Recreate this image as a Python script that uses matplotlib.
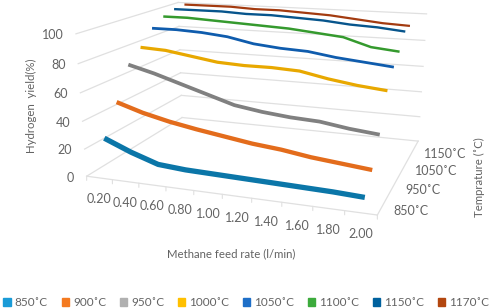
import numpy as np
import matplotlib
matplotlib.use("Agg")
import matplotlib.pyplot as plt
from matplotlib.patches import Patch
from matplotlib.transforms import Transform

plt.rcParams['font.family'] = ['Lato', 'DejaVu Sans']

feed_labels = ['0.20','0.40','0.60','0.80','1.00','1.20','1.40','1.60','1.80','2.00']
temps = ['850˚C','900˚C','950˚C','1000˚C','1050˚C','1100˚C','1150˚C','1170˚C']
depth_labels = {0:'850˚C', 2:'950˚C', 4:'1050˚C', 6:'1150˚C'}
y_ticks = [0,20,40,60,80,100]

y850  = [26,18,11.5,10,9.5,9,8.5,8,7.5,6.5]
y900  = [47,41,36.5,33,30,27,25,22,20,18]
y950  = [70,65,59,53,47,44,42,41,38,36]
y1000 = [79,78,75,72,71,71,70,66,63,61]
y1050 = [90,90,89,87,83,81,80,77,75,73]
y1100 = [96,96,95,94,93,92,90,88,82,80]
y1150 = [99,99,99,98,98,97,96,94,93,91]
y1170 = [100,100,100,99,99,98,97,95,93,92]
series = [y850,y900,y950,y1000,y1050,y1100,y1150,y1170]

line_colors = ['#0B76A8','#E36C1C','#808080','#E8A800','#0F5CAD','#359A2E','#07558C','#A33B10']
legend_colors = ['#1A9BD7','#F47A20','#B0B0B0','#FFC000','#1E6FC8','#3CAB3C','#00619E','#B3470F']
widths = [3.8,3.1,2.7,2.3,2.0,1.8,1.7,1.6]
TXT = '#636363'; GRID = '#E0E0E0'

# chart box corners (u along feed, v along temperature, w height) -> pixels
box3d = np.array([[0,0,0],[1,0,0],[0,1,0],[1,1,0],[0,0,1],[0,1,1],[1,1,1]],float)
box2d = np.array([[86,177],[377,215],[183,117],[418,141],[77,33],[177,3],[427,14]],float)
A=[];b=[]
for (u,v,w),(px,py) in zip(box3d,box2d):
    A.append([u,v,w,1,0,0,0,0,-px*u,-px*v,-px*w]); b.append(px)
    A.append([0,0,0,0,u,v,w,1,-py*u,-py*v,-py*w]); b.append(py)
sol=np.linalg.lstsq(np.array(A),np.array(b),rcond=None)[0]
P=np.append(sol,1).reshape(3,4)

class Box(Transform):
    """Projects a plane of the 3D chart box onto the page."""
    input_dims=2; output_dims=2
    def __init__(self,lift):
        super().__init__(); self.lift=lift
    def transform_non_affine(self,xy):
        xy=np.asarray(xy,float)
        u,v,w=self.lift(xy[:,0],xy[:,1])
        h=np.vstack([u,v,w,np.ones_like(u)])
        q=P@h
        return np.column_stack([q[0]/q[2],q[1]/q[2]])

fig=plt.figure(figsize=(4.98,3.08),dpi=100)
ax=fig.add_axes([0,0,1,1]); ax.set_xlim(0,498); ax.set_ylim(308,0); ax.axis('off')
n=len(feed_labels); m=len(temps)

def series_plane(k):
    return Box(lambda i,val:((i+.5)/n,np.full_like(i,(k+.5)/m),val/100))+ax.transData
left_wall=lambda val:Box(lambda t,_:(np.zeros_like(t),t,np.full_like(t,val/100)))+ax.transData
back_wall=lambda val:Box(lambda t,_:(t,np.ones_like(t),np.full_like(t,val/100)))+ax.transData
front_edge=Box(lambda i,d:(i/n,np.zeros_like(i),d))+ax.transData
side_edge=Box(lambda k,d:(np.ones_like(k),k/m,d))+ax.transData

for val in y_ticks:
    ax.plot([0,1],[0,0],transform=left_wall(val),color=GRID,lw=.9)
    ax.plot([0,1],[0,0],transform=back_wall(val),color=GRID,lw=.9)
    ax.annotate(str(val),(0,0),xycoords=left_wall(val),xytext=(-9,-1),textcoords='offset points',
                ha='right',va='center',fontsize=9,color=TXT)
ax.plot([0,n],[0,0],transform=front_edge,color=GRID,lw=.9)
ax.plot([0,m],[0,0],transform=side_edge,color=GRID,lw=.9)
for i in range(n+1):
    ax.annotate('',(i,0),xycoords=front_edge,xytext=(0,-3),textcoords='offset points',
                arrowprops=dict(arrowstyle='-',color=GRID,lw=.8,shrinkA=0,shrinkB=0))
for i,lab in enumerate(feed_labels):
    ax.annotate(lab,(i+.5,0),xycoords=front_edge,xytext=(0,-15.5),textcoords='offset points',
                ha='center',va='center',fontsize=9,color=TXT)
for k,lab in depth_labels.items():
    ax.annotate(lab,(k+.5,0),xycoords=side_edge,xytext=(9,-1.5),textcoords='offset points',
                ha='left',va='center',fontsize=9,color=TXT)

for k,vals in enumerate(series):
    ax.plot(np.arange(n,dtype=float),vals,transform=series_plane(k),color=line_colors[k],
            lw=widths[k],solid_capstyle='butt',solid_joinstyle='round')

ax.text(31,106,'Hydrogen  yield(%)',rotation=90,ha='center',va='center',fontsize=8.2,color=TXT)
ax.text(231,254,'Methane feed rate (l/min)',ha='center',va='center',fontsize=8.2,color=TXT)
ax.text(479,177,'Temprature (˚C)',rotation=90,ha='center',va='center',fontsize=8.2,color=TXT)

handles=[Patch(color=c,label=t) for c,t in zip(legend_colors,temps)]
fig.legend(handles=handles,ncol=8,loc='lower left',bbox_to_anchor=(0.002,-0.008),frameon=False,
           fontsize=8.5,labelcolor=TXT,handlelength=.62,handleheight=.62,handletextpad=.35,
           columnspacing=1.15,borderpad=.2,borderaxespad=0)
fig.savefig('out.png',dpi=100)
